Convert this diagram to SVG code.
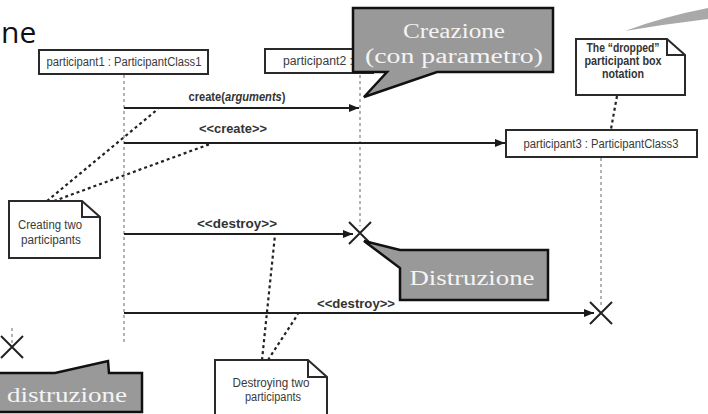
<svg xmlns="http://www.w3.org/2000/svg" width="708" height="414" viewBox="0 0 708 414">
  <defs>
    <marker id="arrow" markerUnits="userSpaceOnUse" markerWidth="11" markerHeight="9" refX="10" refY="4" orient="auto">
      <path d="M0,0 L10,4 L0,8 Z" fill="#1a1a1a"/>
    </marker>
    <style>
      .box { fill: #fff; stroke: #2a2a2a; stroke-width: 2; }
      .note { fill: #fff; stroke: #2a2a2a; stroke-width: 2; stroke-linejoin: miter; }
      .fold { fill: none; stroke: #2a2a2a; stroke-width: 2; }
      .life { stroke: #9a9a9a; stroke-width: 1.5; stroke-dasharray: 3 3; fill: none; }
      .msg { stroke: #1e1e1e; stroke-width: 2; fill: none; }
      .anchor { stroke: #222; stroke-width: 2.2; stroke-dasharray: 3 3; fill: none; }
      .kill { stroke: #222; stroke-width: 2; fill: none; }
      .uml { font-family: "Liberation Sans Narrow", "Liberation Sans", sans-serif; fill: #3a3a3a; font-size: 12.5px; }
      .umlb { font-family: "Liberation Sans Narrow", "Liberation Sans", sans-serif; fill: #333; font-size: 12px; font-weight: bold; }
      .callout { fill: #999; stroke: #111; stroke-width: 2.5; stroke-linejoin: miter; }
      .ctext { font-family: "Liberation Serif", "DejaVu Serif", serif; fill: #f4f4f4; font-size: 20px; }
    </style>
  </defs>

  <!-- fragment of the surrounding slide -->
  <text x="1" y="43" font-family="Open Sans, sans-serif" font-size="30" fill="#111">ne</text>
  <path d="M625,31 Q662,17 708,8 L708,19 Q666,24 625,31 Z" fill="#a9a9a9"/>

  <!-- lifelines -->
  <g id="lifelines">
    <line class="life" x1="124" y1="75" x2="124" y2="345"/>
    <line class="life" x1="360" y1="75" x2="360" y2="226"/>
    <line class="life" x1="601" y1="158" x2="601" y2="306"/>
    <line class="life" x1="12" y1="328" x2="12" y2="346"/>
  </g>

  <!-- participants -->
  <g id="participant1">
    <rect class="box" x="39" y="50" width="169" height="24"/>
    <text class="uml" x="124" y="66" text-anchor="middle" textLength="155" lengthAdjust="spacingAndGlyphs">participant1 : ParticipantClass1</text>
  </g>
  <g id="participant2">
    <rect class="box" x="265" y="49" width="108" height="24"/>
    <text class="uml" x="283" y="65" textLength="70" lengthAdjust="spacingAndGlyphs">participant2 :</text>
  </g>
  <g id="participant3">
    <rect class="box" x="506" y="130" width="191" height="27"/>
    <text class="uml" x="601" y="148" text-anchor="middle" textLength="155" lengthAdjust="spacingAndGlyphs">participant3 : ParticipantClass3</text>
  </g>

  <!-- messages and note anchors -->
  <g id="connectors">
    <line class="msg" x1="124" y1="108" x2="359" y2="108" marker-end="url(#arrow)"/>
    <line class="msg" x1="124" y1="143" x2="505" y2="143" marker-end="url(#arrow)"/>
    <line class="msg" x1="124" y1="234" x2="353" y2="234" marker-end="url(#arrow)"/>
    <line class="msg" x1="124" y1="313" x2="594" y2="313" stroke="#555" stroke-width="2.6" marker-end="url(#arrow)"/>

    <line class="anchor" x1="47" y1="201" x2="158" y2="109"/>
    <line class="anchor" x1="54" y1="201" x2="210" y2="144"/>
    <line class="anchor" x1="262" y1="360" x2="275" y2="235"/>
    <line class="anchor" x1="268" y1="360" x2="298" y2="314"/>
    <line class="anchor" x1="617" y1="96" x2="611" y2="129"/>

    <text class="umlb" x="237" y="101" text-anchor="middle" textLength="97" lengthAdjust="spacingAndGlyphs">create(<tspan font-style="italic">arguments</tspan>)</text>
    <text class="umlb" x="233" y="133" text-anchor="middle" textLength="68" lengthAdjust="spacingAndGlyphs">&lt;&lt;create&gt;&gt;</text>
    <text class="umlb" x="237" y="228" text-anchor="middle" textLength="80" lengthAdjust="spacingAndGlyphs">&lt;&lt;destroy&gt;&gt;</text>
    <text class="umlb" x="356" y="308" text-anchor="middle" textLength="78" lengthAdjust="spacingAndGlyphs">&lt;&lt;destroy&gt;&gt;</text>
  </g>

  <!-- destruction marks -->
  <g id="destroy-marks">
    <path class="kill" d="M349,222 L371,244 M371,222 L349,244"/>
    <path class="kill" d="M590,302 L612,324 M612,302 L590,324"/>
    <path class="kill" d="M1,336 L23,358 M23,336 L1,358"/>
  </g>

  <!-- notes -->
  <g id="note-creating">
    <path class="note" d="M9,201 L82,201 L100,217 L100,258 L9,258 Z"/>
    <path class="fold" d="M82,201 L82,217 L100,217"/>
    <text class="uml" x="50" y="229" text-anchor="middle" textLength="64" lengthAdjust="spacingAndGlyphs">Creating two</text>
    <text class="uml" x="51" y="244" text-anchor="middle" textLength="60" lengthAdjust="spacingAndGlyphs">participants</text>
  </g>
  <g id="note-destroying">
    <path class="note" d="M215,360 L308,360 L327,377 L327,416 L215,416 Z"/>
    <path class="fold" d="M308,360 L308,377 L327,377"/>
    <text class="uml" x="271" y="387" text-anchor="middle" textLength="77" lengthAdjust="spacingAndGlyphs">Destroying two</text>
    <text class="uml" x="273" y="401" text-anchor="middle" textLength="56" lengthAdjust="spacingAndGlyphs">participants</text>
  </g>
  <g id="note-dropped">
    <path class="note" d="M576,39 L667,39 L685,55 L685,95 L576,95 Z"/>
    <path class="fold" d="M667,39 L667,55 L685,55"/>
    <text class="umlb" x="623" y="52" text-anchor="middle" textLength="73" lengthAdjust="spacingAndGlyphs">The “dropped”</text>
    <text class="umlb" x="623" y="65" text-anchor="middle" textLength="77" lengthAdjust="spacingAndGlyphs">participant box</text>
    <text class="umlb" x="623" y="78" text-anchor="middle" textLength="42" lengthAdjust="spacingAndGlyphs">notation</text>
  </g>

  <!-- callouts -->
  <g id="callout-creazione">
    <path class="callout" d="M353,8 L553,8 L553,72 L437,72 L364,97 L387,72 L353,72 Z"/>
    <text class="ctext" x="454" y="38" text-anchor="middle" textLength="102" lengthAdjust="spacingAndGlyphs">Creazione</text>
    <text class="ctext" x="454" y="63" text-anchor="middle" textLength="178" lengthAdjust="spacingAndGlyphs">(con parametro)</text>
  </g>
  <g id="callout-distruzione">
    <path class="callout" d="M400,250 L548,250 L548,300 L400,300 L400,268 L364,241 Z"/>
    <text class="ctext" x="472" y="285" text-anchor="middle" textLength="125" lengthAdjust="spacingAndGlyphs">Distruzione</text>
  </g>
  <g id="callout-distruzione-left">
    <path class="callout" d="M-5,373 L55,373 L108,361 L109,373 L142,373 L142,412 L-5,412 Z"/>
    <text class="ctext" x="67" y="402" text-anchor="middle" textLength="120" lengthAdjust="spacingAndGlyphs">distruzione</text>
  </g>
</svg>
